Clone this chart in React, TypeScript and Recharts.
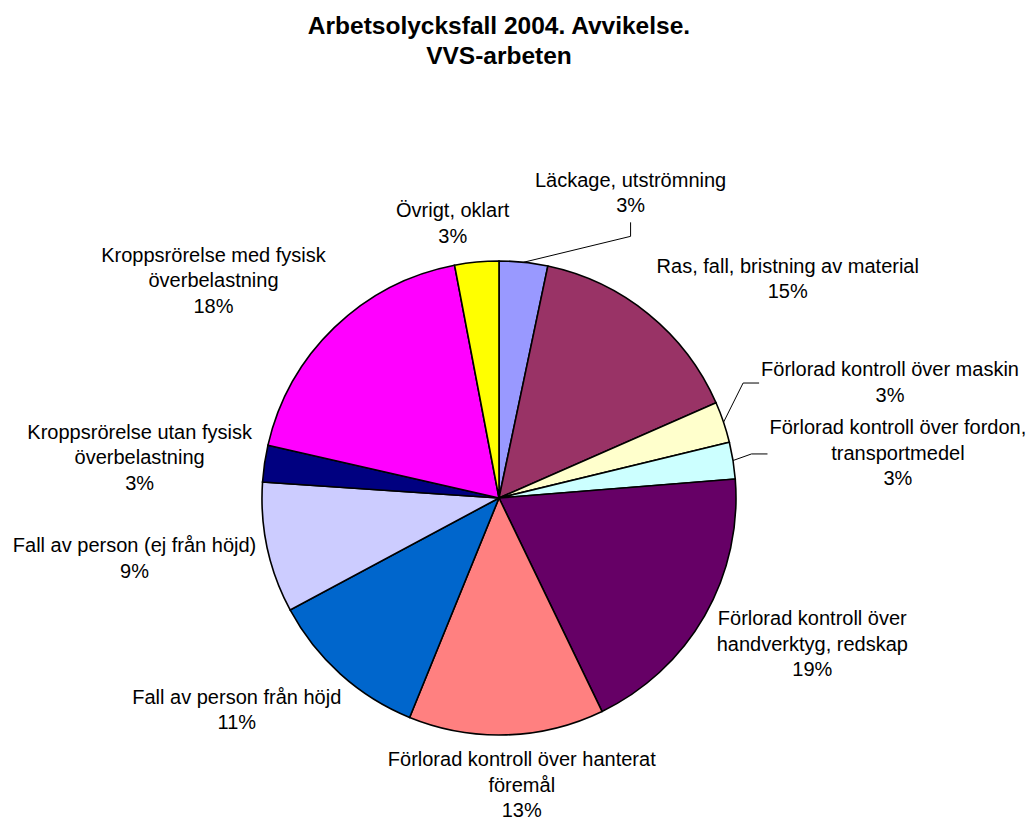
import React from 'react';
import { PieChart, Pie, Cell } from 'recharts';

// slices, clockwise from 12 o'clock
const categories = [
  'Läckage, utströmning',
  'Ras, fall, bristning av material',
  'Förlorad kontroll över maskin',
  'Förlorad kontroll över fordon,\ntransportmedel',
  'Förlorad kontroll över\nhandverktyg, redskap',
  'Förlorad kontroll över hanterat\nföremål',
  'Fall av person från höjd',
  'Fall av person (ej från höjd)',
  'Kroppsrörelse utan fysisk\növerbelastning',
  'Kroppsrörelse med fysisk\növerbelastning',
  'Övrigt, oklart',
];
const shares = [3.3, 15.1, 2.8, 2.5, 19.1, 13.3, 11.0, 8.9, 2.5, 18.4, 3.0];
const colors = [
  '#9999FF', '#993366', '#FFFFCC', '#CCFFFF', '#660066', '#FF8080',
  '#0066CC', '#CCCCFF', '#000080', '#FF00FF', '#FFFF00',
];

const titleLines = ['Arbetsolycksfall 2004. Avvikelse.', 'VVS-arbeten'];

// label layout (block centre offset from the point just outside each slice)
const labelShift: [number, number][] = [
  [106, -60], [133, -28], [157, -37], [155, -6], [99, 23], [15, 40],
  [-97, 28], [-123, 8], [-115, -5], [-114, -40], [-23, -29],
];
const leaderKind: (string | null)[] = [
  'bottom', null, 'left', 'left', null, null, null, null, null, null, null,
];

const W = 1031;
const H = 817;
const FONT = '"Liberation Sans", Arial, sans-serif';
const LABEL_SIZE = 20;
const LH = 25.5;

const total = shares.reduce((a, b) => a + b, 0);
const data = categories.map((name, i) => ({ name, value: shares[i] }));

let ctx: CanvasRenderingContext2D | null = null;
const textWidth = (s: string) => {
  if (!ctx) {
    ctx = document.createElement('canvas').getContext('2d');
  }
  if (!ctx) return s.length * LABEL_SIZE * 0.5;
  ctx.font = `${LABEL_SIZE}px ${FONT}`;
  return ctx.measureText(s).width;
};

const renderLabel = (p: any) => {
  const { cx, cy, midAngle, outerRadius, index } = p;
  const rad = (-midAngle * Math.PI) / 180;
  const ax = cx + (outerRadius + 10) * Math.cos(rad);
  const ay = cy + (outerRadius + 10) * Math.sin(rad);
  const bx = ax + labelShift[index][0];
  const by = ay + labelShift[index][1];
  const lines = [...categories[index].split('\n'), `${Math.round((shares[index] / total) * 100)}%`];
  const n = lines.length;

  let leader = null;
  const ex = cx + outerRadius * Math.cos(rad);
  const ey = cy + outerRadius * Math.sin(rad);
  if (leaderKind[index] === 'bottom') {
    const endY = by + (n * LH) / 2 + 4.5;
    leader = <polyline points={`${ex},${ey} ${bx},${endY + 14} ${bx},${endY}`} fill="none" stroke="#000" strokeWidth={1} />;
  } else if (leaderKind[index] === 'left') {
    const w = Math.max(...lines.map(textWidth));
    const left = bx - w / 2;
    leader = <polyline points={`${ex},${ey} ${left - 18},${by + 1} ${left - 2},${by + 1}`} fill="none" stroke="#000" strokeWidth={1} />;
  }

  return (
    <g key={`lbl-${index}`}>
      {leader}
      <text textAnchor="middle" fontFamily={FONT} fontSize={LABEL_SIZE} fill="#000">
        {lines.map((l, i) => (
          <tspan key={i} x={bx} y={by + (i - (n - 1) / 2) * LH + 7}>{l}</tspan>
        ))}
      </text>
    </g>
  );
};

export default function App() {
  return (
    <div style={{ position: 'absolute', left: 0, top: 0, width: W, height: H, background: '#fff' }}>
      <PieChart width={W} height={H} margin={{ top: 0, right: 0, bottom: 0, left: 0 }}>
        <Pie
          data={data}
          dataKey="value"
          nameKey="name"
          cx={499}
          cy={498}
          outerRadius={237}
          startAngle={90}
          endAngle={-270}
          stroke="#000"
          strokeWidth={1.6}
          label={renderLabel}
          labelLine={false}
          isAnimationActive={false}
        >
          {data.map((d, i) => (
            <Cell key={d.name} fill={colors[i]} />
          ))}
        </Pie>
      </PieChart>
      <svg width={W} height={90} style={{ position: 'absolute', left: 0, top: 0 }}>
        {titleLines.map((t, i) => (
          <text key={t} x={499} y={34 + i * 30} textAnchor="middle" fontFamily={FONT} fontSize={24.5} fontWeight="bold" fill="#000">
            {t}
          </text>
        ))}
      </svg>
    </div>
  );
}
